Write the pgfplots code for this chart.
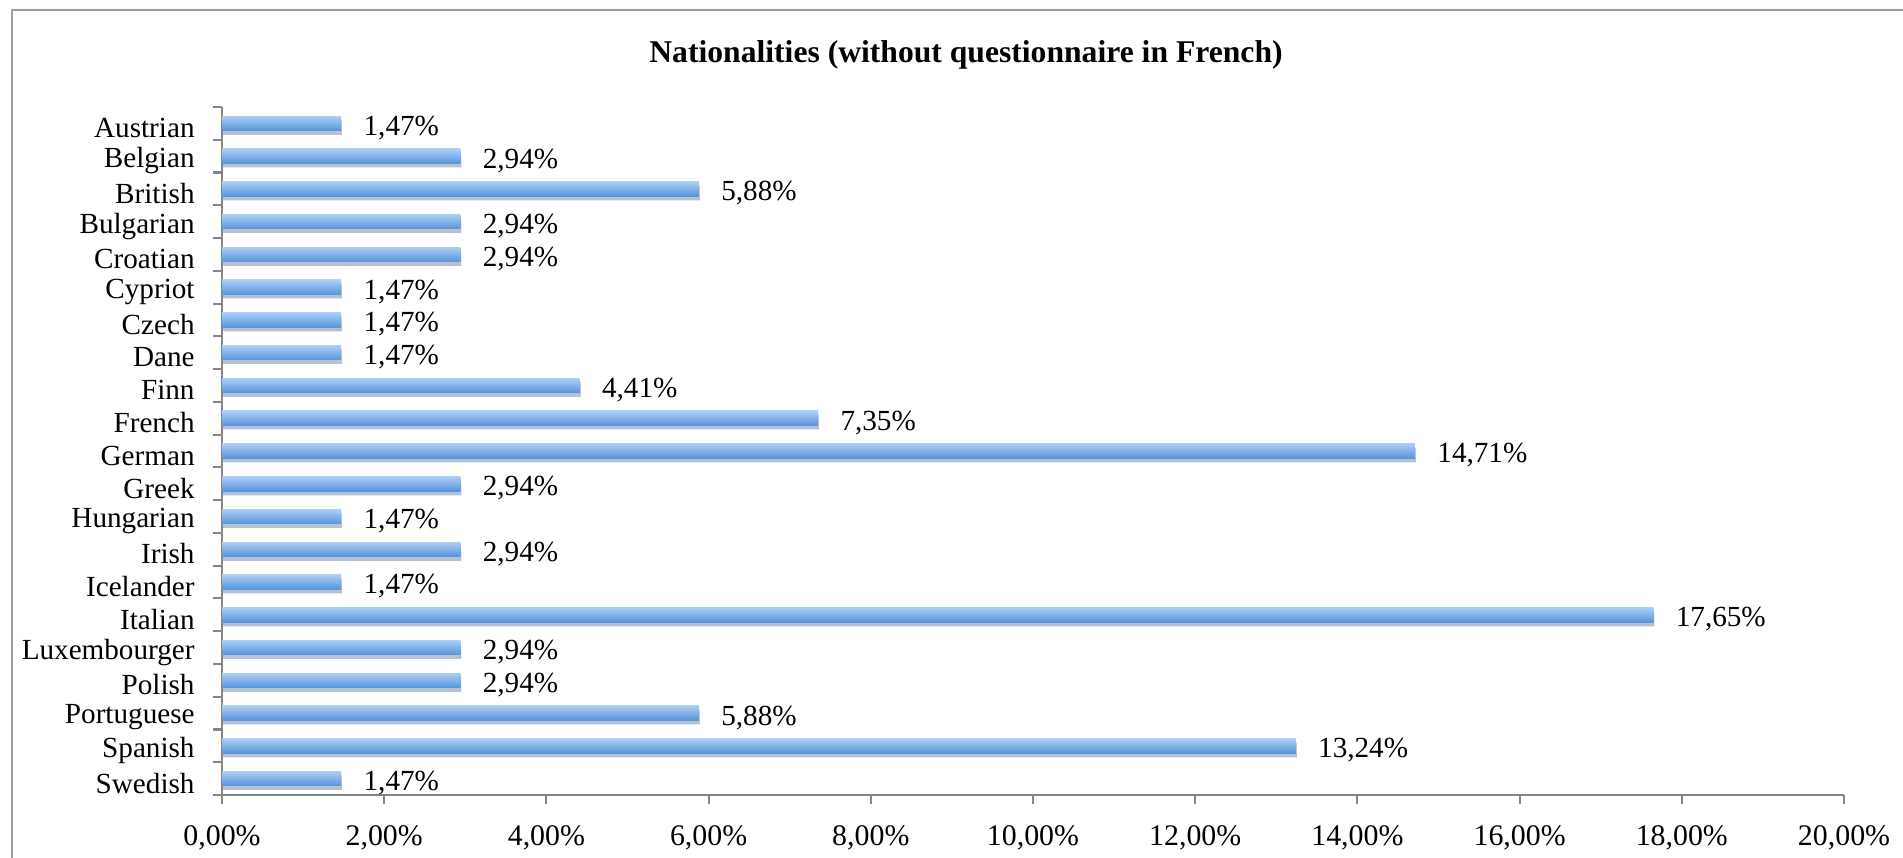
\documentclass[border=0pt]{standalone}
\usepackage{fontspec}
\setmainfont{Liberation Serif}
\usepackage{pgfplots}
\pgfplotsset{compat=1.18}
\usetikzlibrary{shadows}

\definecolor{barTop}{RGB}{172,206,246}
\definecolor{barBot}{RGB}{86,148,219}
\definecolor{axisGray}{RGB}{134,134,134}

% one plot per bar, so that each bar gets its own gradient
\pgfplotsset{natbar/.style={draw=none, top color=barTop, bottom color=barBot,
    drop shadow={shadow xshift=0.1mm, shadow yshift=-0.4mm, fill=black, opacity=0.2}}}

\begin{document}
\begin{tikzpicture}
\useasboundingbox (0,0) rectangle (19.03cm,8.58cm);
\draw[axisGray!80, line width=0.6pt] (0.12cm,0) -- (0.12cm,8.48cm) -- (19.03cm,8.48cm);
\node[font=\fontsize{9}{11}\selectfont\bfseries] at (9.66cm,8.03cm) {Nationalities (without questionnaire in French)};
\begin{axis}[
    at={(2.22cm,0.63cm)}, anchor=south west,
    width=16.22cm, height=6.88cm, scale only axis,
    xbar, bar width=1.45mm, bar shift=0pt,
    xmin=0, xmax=20, ymin=-0.5, ymax=20.5,
    axis x line*=bottom, axis y line*=left,
    axis line style={axisGray, line width=0.6pt},
    tick style={axisGray, line width=0.6pt},
    tick align=outside, major tick length=0.9mm,
    /pgf/number format/assume math mode=true,
    xtick={0,2,...,20},
    xticklabel={\pgfmathprintnumber[fixed,fixed zerofill,precision=2,use comma]{\tick}\%},
    xticklabel style={font=\fontsize{8.5}{10}\selectfont, yshift=-0.9mm},
    ytick={-0.5,0.5,...,20.5}, yticklabels={},
    extra y ticks={0,...,20},
    extra y tick labels={Swedish,Spanish,Portuguese,Polish,Luxembourger,Italian,Icelander,Irish,Hungarian,Greek,German,French,Finn,Dane,Czech,Cypriot,Croatian,Bulgarian,British,Belgian,Austrian},
    extra y tick style={major tick length=0pt, yticklabel style={font=\fontsize{8.3}{10}\selectfont, xshift=-1.5mm, yshift=-0.45mm}},
    nodes near coords={\pgfmathprintnumber[fixed,fixed zerofill,precision=2,use comma]{\pgfplotspointmeta}\%},
    every node near coord/.append style={text=black, font=\fontsize{8.3}{10}\selectfont, xshift=1mm, yshift=-0.45mm},
]
\addplot[natbar] coordinates {(1.47,0)};   % Swedish
\addplot[natbar] coordinates {(13.24,1)};  % Spanish
\addplot[natbar] coordinates {(5.88,2)};   % Portuguese
\addplot[natbar] coordinates {(2.94,3)};   % Polish
\addplot[natbar] coordinates {(2.94,4)};   % Luxembourger
\addplot[natbar] coordinates {(17.65,5)};  % Italian
\addplot[natbar] coordinates {(1.47,6)};   % Icelander
\addplot[natbar] coordinates {(2.94,7)};   % Irish
\addplot[natbar] coordinates {(1.47,8)};   % Hungarian
\addplot[natbar] coordinates {(2.94,9)};   % Greek
\addplot[natbar] coordinates {(14.71,10)}; % German
\addplot[natbar] coordinates {(7.35,11)};  % French
\addplot[natbar] coordinates {(4.41,12)};  % Finn
\addplot[natbar] coordinates {(1.47,13)};  % Dane
\addplot[natbar] coordinates {(1.47,14)};  % Czech
\addplot[natbar] coordinates {(1.47,15)};  % Cypriot
\addplot[natbar] coordinates {(2.94,16)};  % Croatian
\addplot[natbar] coordinates {(2.94,17)};  % Bulgarian
\addplot[natbar] coordinates {(5.88,18)};  % British
\addplot[natbar] coordinates {(2.94,19)};  % Belgian
\addplot[natbar] coordinates {(1.47,20)};  % Austrian
\end{axis}
\end{tikzpicture}
\end{document}
